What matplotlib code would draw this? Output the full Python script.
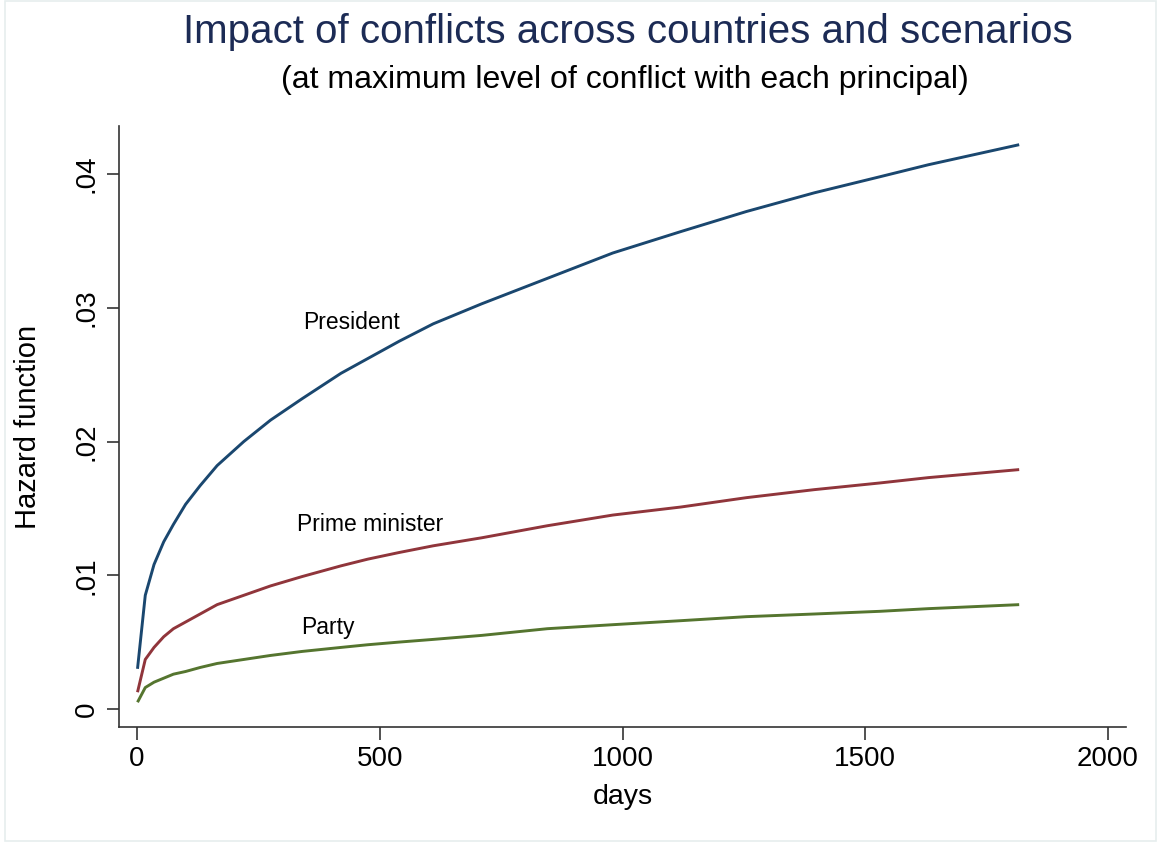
#!/usr/bin/env python3
"""Hazard functions by principal type, Stata s2color look."""

import matplotlib
matplotlib.use("Agg")
import matplotlib.pyplot as plt
from matplotlib.patches import Rectangle
from matplotlib.ticker import FuncFormatter

plt.rcParams["font.family"] = ["Liberation Sans", "DejaVu Sans"]

# values
days = [1, 17, 35, 55, 75, 100, 130, 165, 220, 275, 340, 420, 475, 540, 610,
        710, 845, 980, 1120, 1255, 1395, 1530, 1630, 1817]
president = [0.0030, 0.0085, 0.0108, 0.0125, 0.0138, 0.0153, 0.0167, 0.0182,
             0.0200, 0.0216, 0.0232, 0.0251, 0.0262, 0.0275, 0.0288, 0.0303,
             0.0322, 0.0341, 0.0357, 0.0372, 0.0386, 0.0398, 0.0407, 0.0422]
prime_minister = [0.00125, 0.0037, 0.0046, 0.0054, 0.0060, 0.0065, 0.0071,
                  0.0078, 0.0085, 0.0092, 0.0099, 0.0107, 0.0112, 0.0117,
                  0.0122, 0.0128, 0.0137, 0.0145, 0.0151, 0.0158, 0.0164,
                  0.0169, 0.0173, 0.0179]
party = [0.0005, 0.0016, 0.0020, 0.0023, 0.0026, 0.0028, 0.0031, 0.0034,
         0.0037, 0.0040, 0.0043, 0.0046, 0.0048, 0.0050, 0.0052, 0.0055,
         0.0060, 0.0063, 0.0066, 0.0069, 0.0071, 0.0073, 0.0075, 0.0078]

series_labels = ["President", "Prime minister", "Party"]
label_pos = [(441, 0.0289), (480, 0.0138), (393, 0.0061)]

x_ticks = [0, 500, 1000, 1500, 2000]
y_ticks = [0, 0.01, 0.02, 0.03, 0.04]

COLORS = ["#1a476f", "#90353b", "#55752f"]
TITLE_COLOR = "#1c2b55"


def fmt_y(v, _pos):
    if v == 0:
        return "0"
    return f"{v:.2f}".lstrip("0")


fig = plt.figure(figsize=(11.57, 8.42), dpi=100)
fig.patches.append(Rectangle((0.004, 0.001), 0.995, 0.998, transform=fig.transFigure,
                             fill=False, edgecolor="#e6eeee", linewidth=1.2))
ax = fig.add_axes([0.1029, 0.1366, 0.8703, 0.7138])

for values, color in zip([president, prime_minister, party], COLORS):
    ax.plot(days, values, color=color, linewidth=2.1, solid_capstyle="butt")

for text, (x, y) in zip(series_labels, label_pos):
    ax.text(x, y, text, fontsize=16.5, ha="center", va="center", color="black")

ax.set_xlim(-37, 2037)
ax.set_ylim(-0.00135, 0.0436)
ax.set_xticks(x_ticks)
ax.set_yticks(y_ticks)
ax.yaxis.set_major_formatter(FuncFormatter(fmt_y))

for side in ["top", "right"]:
    ax.spines[side].set_visible(False)
for side in ["left", "bottom"]:
    ax.spines[side].set_color("#333333")
    ax.spines[side].set_linewidth(1.2)

ax.tick_params(axis="both", direction="out", length=9, width=1.2, color="#333333",
               labelsize=20, pad=5)
for lab in ax.get_yticklabels():
    lab.set_rotation(90)
    lab.set_va("center")

ax.set_xlabel("days", fontsize=20.5, labelpad=8)
ax.set_ylabel("Hazard function", fontsize=21, labelpad=23)

fig.text(0.543, 0.962, "Impact of conflicts across countries and scenarios",
         fontsize=29, color=TITLE_COLOR, ha="center", va="center")
fig.text(0.540, 0.905, "(at maximum level of conflict with each principal)",
         fontsize=23, color="black", ha="center", va="center")

fig.savefig("out.png", dpi=100, facecolor="white")
